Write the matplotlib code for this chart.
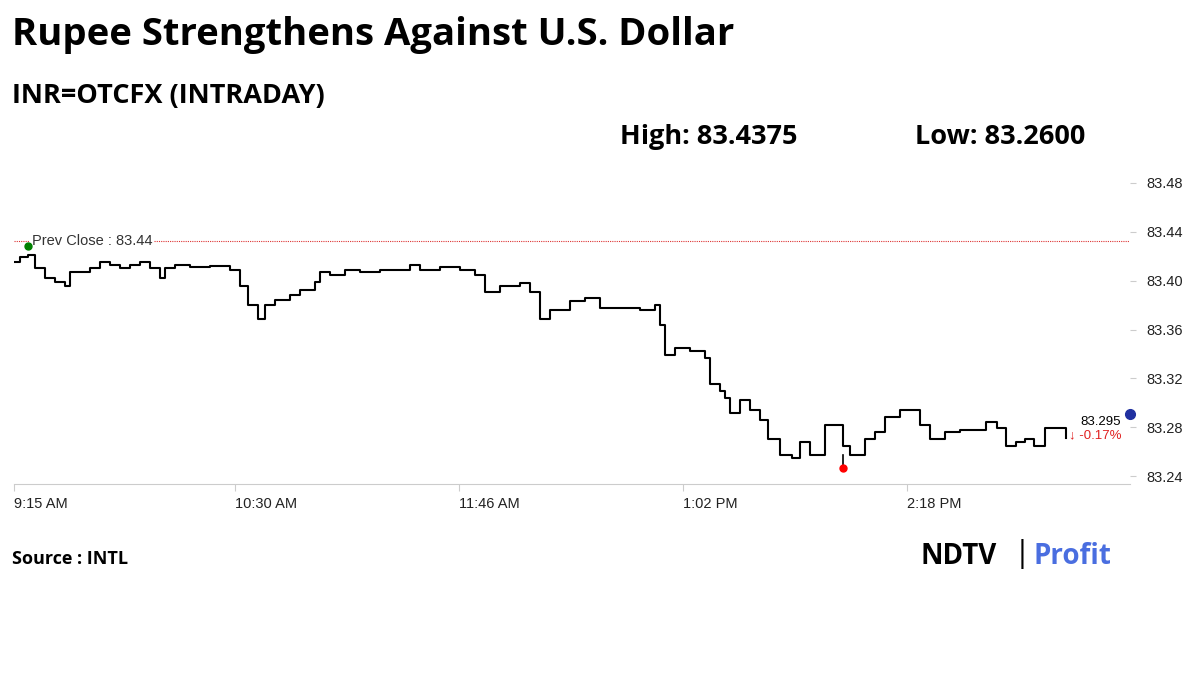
import matplotlib
matplotlib.use("Agg")
import matplotlib.pyplot as plt

# minutes since 9:15 AM
minutes = [0, 2.0, 4.8, 7.1, 10.5, 13.9, 17.3, 19.0, 22.4, 25.8, 29.2, 32.6, 36.0, 39.4, 42.8, 46.1, 49.5, 51.2,
           54.6, 59.7, 66.5, 73.3, 76.7, 79.4, 82.8, 85.2, 88.6, 93.7, 97.1, 102.1, 103.8, 107.2, 112.3, 117.4,
           124.2, 129.3, 134.4, 137.8, 144.6, 151.4, 156.4, 159.8, 164.9, 171.7, 175.1, 178.5, 181.9, 188.7,
           193.8, 198.9, 205.6, 212.4, 217.5, 219.2, 220.9, 224.3, 229.4, 234.4, 236.1, 239.5, 241.2, 243.0,
           246.4, 249.7, 253.1, 255.8, 259.9, 264.0, 266.7, 270.1, 275.2, 281.2, 283.6, 288.7, 292.1, 295.5,
           300.6, 303.9, 307.3, 310.7, 315.8, 320.9, 329.9, 333.5, 336.7, 340.1, 343.2, 346.0, 350.0, 357.0]
values = [83.415, 83.419, 83.421, 83.410, 83.402, 83.399, 83.396, 83.407, 83.407, 83.410, 83.415, 83.413, 83.410,
          83.413, 83.415, 83.410, 83.402, 83.410, 83.413, 83.411, 83.412, 83.409, 83.396, 83.380, 83.369, 83.380,
          83.384, 83.388, 83.392, 83.399, 83.407, 83.405, 83.409, 83.407, 83.409, 83.409, 83.413, 83.409, 83.411,
          83.409, 83.405, 83.391, 83.396, 83.398, 83.391, 83.369, 83.376, 83.383, 83.386, 83.378, 83.378, 83.376,
          83.380, 83.364, 83.339, 83.345, 83.342, 83.337, 83.315, 83.310, 83.304, 83.292, 83.302, 83.294, 83.286,
          83.270, 83.257, 83.255, 83.268, 83.257, 83.282, 83.265, 83.257, 83.270, 83.276, 83.288, 83.294, 83.294,
          83.282, 83.270, 83.276, 83.278, 83.284, 83.279, 83.265, 83.268, 83.270, 83.265, 83.279, 83.271]

xtick_pos = [0, 75, 151, 227, 303]
xtick_labels = ["9:15 AM", "10:30 AM", "11:46 AM", "1:02 PM", "2:18 PM"]
ytick_vals = [83.24, 83.28, 83.32, 83.36, 83.40, 83.44, 83.48]
prev_close = 83.4325
low_point = (281.3, 83.247)
end_point = (378.7, 83.291)

W, H = 1200, 674
fig = plt.figure(figsize=(12, 6.74), dpi=100)
fig.patch.set_facecolor("white")
ax = fig.add_axes([14 / W, 1 - 484 / H, (1130 - 14) / W, (484 - 165) / H])
ax.set_xlim(0, 378.7)
ax.set_ylim(83.2335, 83.4947)

ax.plot(minutes, values, drawstyle="steps-post", color="black", lw=1.5, zorder=3)
ax.axhline(prev_close, color="#d33", lw=0.8, ls=(0, (1, 1)), zorder=2)
ax.text(6, prev_close, "Prev Close : 83.44", fontsize=10.5, color="#333", va="center",
        ha="left", family=["Liberation Sans", "DejaVu Sans"],
        bbox=dict(facecolor="white", edgecolor="none", pad=1), zorder=4)
ax.plot([4.8], [83.4285], "o", color="green", ms=5, zorder=5)
ax.plot([low_point[0], low_point[0]], [low_point[1], 83.257], color="black", lw=1.2, zorder=3)
ax.plot([low_point[0]], [low_point[1]], "o", color="red", ms=5, zorder=5)
ax.plot([end_point[0]], [end_point[1]], "o", color="#2030a0", ms=7, zorder=5, clip_on=False)
ax.text(362, 83.284, "83.295", fontsize=9.5, color="black", ha="left", va="center",
        family=["Liberation Sans", "DejaVu Sans"])
ax.text(358, 83.2735, "\u2193 -0.17%", fontsize=9.5, color="#e02020", ha="left", va="center",
        family=["Liberation Sans", "DejaVu Sans"])

for s in ["top", "left", "right"]:
    ax.spines[s].set_visible(False)
ax.spines["bottom"].set_color("#cccccc")
ax.set_xticks(xtick_pos)
ax.set_xticklabels(xtick_labels, fontsize=10.5, color="#222", family="Liberation Sans")
ax.tick_params(axis="x", length=5, color="#cccccc", pad=4)
ax.yaxis.tick_right()
ax.set_yticks(ytick_vals)
ax.set_yticklabels([f"{v:.2f}" for v in ytick_vals], fontsize=10.5, color="#222", family="Liberation Sans")
ax.tick_params(axis="y", length=4, color="#cccccc", pad=8)
for lbl in ax.get_xticklabels():
    lbl.set_horizontalalignment("left")

ff = ["Open Sans", "DejaVu Sans"]
fig.text(12 / W, 1 - 35 / H, "Rupee Strengthens Against U.S. Dollar", fontsize=27.5, fontweight="bold",
         family=ff, va="center")
fig.text(12 / W, 1 - 96 / H, "INR=OTCFX (INTRADAY)", fontsize=19.5, fontweight="bold", family=ff, va="center")
fig.text(620 / W, 1 - 137 / H, "High: 83.4375", fontsize=19.5, fontweight="bold", family=ff, va="center")
fig.text(915 / W, 1 - 137 / H, "Low: 83.2600", fontsize=19.5, fontweight="bold", family=ff, va="center")
fig.text(12 / W, 1 - 559 / H, "Source : INTL", fontsize=13, fontweight="bold", family=ff, va="center")
fig.text(920 / W, 1 - 556 / H, "NDTV", fontsize=20, fontweight="bold", family=ff, va="center", color="black")
fig.text(1014 / W, 1 - 554 / H, "|", fontsize=22, family=ff, va="center", color="black")
fig.text(1034 / W, 1 - 556 / H, "Profit", fontsize=20, fontweight="bold", family=ff, va="center",
         color="#4a6ee0")

fig.savefig("out.png", dpi=100)
